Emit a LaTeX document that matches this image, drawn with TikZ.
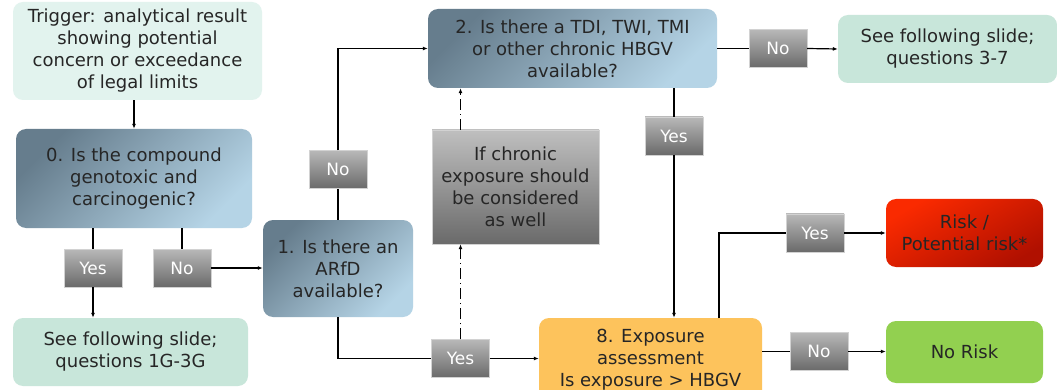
\documentclass[tikz,border=0pt]{standalone}
\usepackage{fontspec}
\setmainfont{DejaVu Sans}
\usetikzlibrary{arrows.meta}
% colours
\definecolor{mintlight}{HTML}{E2F3EE}
\definecolor{mint}{HTML}{C8E6DA}
\definecolor{slatedark}{HTML}{667D8D}
\definecolor{slatelight}{HTML}{B5D4E6}
\definecolor{graytop}{HTML}{B8B8B8}
\definecolor{graybottom}{HTML}{6A6A6A}
\definecolor{exposure}{HTML}{FDC35C}
\definecolor{risktop}{HTML}{FA2A00}
\definecolor{riskbottom}{HTML}{B01000}
\definecolor{norisk}{HTML}{92D050}
\tikzset{
  box/.style={rounded corners=10pt, align=center, text=black!85, inner sep=2pt,
    font=\fontsize{18}{22}\selectfont},
  question/.style={box, top color=slatedark, bottom color=slatelight, shading angle=45},
  outcome/.style={box, fill=mint},
  answer/.style={draw=gray!35, thin, top color=graytop, bottom color=graybottom,
    text=white, font=\fontsize{17}{18}\selectfont, minimum width=58pt, minimum height=38pt},
  flow/.style={line width=1.2pt, -{Latex[length=5pt,width=4pt]}},
  plain/.style={line width=1.2pt},
  dashdot/.style={line width=1.2pt, dash pattern=on 11pt off 4pt on 1.2pt off 4pt}
}
\begin{document}
\begin{tikzpicture}[x=1pt, y=-1pt]
  \useasboundingbox (0,0) rectangle (1057,390);
  \fill[white] (0,0) rectangle (1057,390);
  \clip (0,0) rectangle (1057,390);
  % trigger and question 0
  \node[box, fill=mintlight, minimum width=249pt, minimum height=98pt] (trigger) at (137.5,51)
    {Trigger: analytical result\\showing potential\\concern or exceedance\\of legal limits};
  \node[question, minimum width=236pt, minimum height=99pt] (q0) at (134,178.5)
    {0. Is the compound\\genotoxic and\\carcinogenic?};
  \node[answer] (yes0) at (93,268) {Yes};
  \node[answer] (no0) at (182,268) {No};
  \node[outcome, minimum width=235pt, minimum height=68pt] (see1) at (130.5,352)
    {See following slide;\\questions 1G-3G};
  % question 1
  \node[question, minimum width=150pt, minimum height=97pt] (q1) at (338,268.5)
    {1. Is there an\\ARfD\\available?};
  \node[answer] (no1) at (338,169.5) {No};
  \node[answer] (yes1) at (460.5,358.5) {Yes};
  % chronic exposure
  \node[box, rounded corners=0pt, draw=gray!35, thin, top color=graytop!90!white,
    bottom color=graybottom, minimum width=167pt, minimum height=114pt] (chronic) at (515.5,187)
    {If chronic\\exposure should\\be considered\\as well};
  % question 2
  \node[question, minimum width=289pt, minimum height=79pt] (q2) at (572.5,48.5)
    {2. Is there a TDI, TWI, TMI\\or other chronic HBGV\\available?};
  \node[answer] (no2) at (778,48.5) {No};
  \node[outcome, minimum width=219pt, minimum height=68pt] (see2) at (947.5,49)
    {See following slide;\\questions 3-7};
  \node[answer] (yes2) at (674,136) {Yes};
  % question 8
  \node[box, fill=exposure, minimum width=223pt, minimum height=84pt] (q8) at (650.5,360)
    {8. Exposure\\assessment\\Is exposure > HBGV};
  \coordinate (q8up) at (719,318);
  \node[answer] (yes8) at (815,233) {Yes};
  \node[box, top color=risktop, bottom color=riskbottom, shading angle=30,
    minimum width=157pt, minimum height=68pt] (risk) at (964.5,233)
    {Risk /\\Potential risk*};
  \node[answer] (no8) at (819,351.5) {No};
  \node[box, fill=norisk, minimum width=157pt, minimum height=62pt] (noriskbox) at (964.5,352)
    {No Risk};
  % connectors
  \draw[flow] (trigger.south -| q0.north) -- (q0.north);
  \draw[plain] (q0.south -| yes0) -- (yes0.north);
  \draw[flow] (yes0.south) -- (yes0.south |- see1.north);
  \draw[plain] (q0.south -| no0) -- (no0.north);
  \draw[flow] (no0.east) -- (no0.east -| q1.west);
  \draw[plain] (q1.north) -- (no1.south);
  \draw[flow] (no1.north) |- (q2.west);
  \draw[plain] (q1.south) |- (yes1.west);
  \draw[flow] (yes1.east) -- (yes1.east -| q8.west);
  \draw[dashdot, -{Latex[length=5pt,width=4pt]}] (yes1.north) -- (yes1.north |- chronic.south);
  \draw[dashdot, -{Latex[length=5pt,width=4pt]}] (yes1.north |- chronic.north) -- (yes1.north |- q2.south);
  \draw[plain] (q2.east) -- (no2.west);
  \draw[flow] (no2.east) -- (see2.west);
  \draw[plain] (q2.south -| yes2) -- (yes2.north);
  \draw[flow] (yes2.south) -- (yes2.south |- q8.north);
  \draw[plain] (q8up) |- (yes8.west);
  \draw[flow] (yes8.east) -- (risk.west);
  \draw[plain] (q8.east |- no8.west) -- (no8.west);
  \draw[flow] (no8.east) -- (no8.east -| noriskbox.west);
\end{tikzpicture}
\end{document}
